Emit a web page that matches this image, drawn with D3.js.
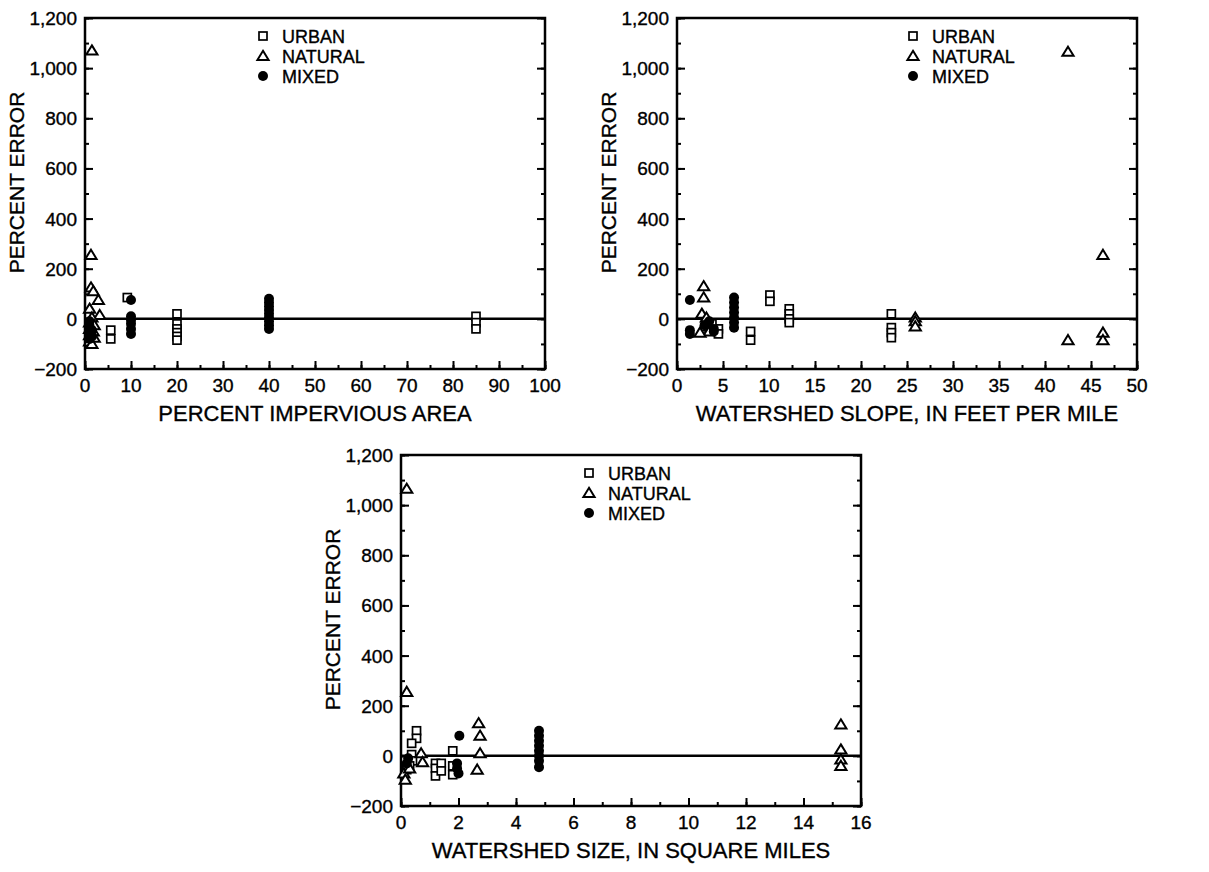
<!DOCTYPE html>
<html>
<head>
<meta charset="utf-8">
<script src="https://cdn.jsdelivr.net/npm/d3@7"></script>
<style>
  body { margin: 0; background: #fff; }
  svg { display: block; }
  text { font-family: "Liberation Sans", Arial, Helvetica, sans-serif; fill: #000; stroke: #000; stroke-width: 0.35; }
</style>
</head>
<body>
<svg id="chart" width="1209" height="872"></svg>
<script>
// ---- data: [x, percent error] ----
var yTicks = [-200, 0, 200, 400, 600, 800, 1000, 1200];
var seriesNames = ["URBAN", "NATURAL", "MIXED"];

// panel 1: percent impervious area
var impXTicks = [0, 10, 20, 30, 40, 50, 60, 70, 80, 90, 100];
var impUrban = [[5.6, -45], [5.6, -80], [9.2, 85], [20, 20], [20, -20], [20, -40], [20, -55], [20, -70], [20, -85],
  [85, 10], [85, -15], [85, -40]];
var impNatural = [[1.5, 1070], [1.3, 255], [1.3, 125], [1.8, 110], [2.9, 75], [3.2, 15], [1, 40], [1.5, 5], [1, -15],
  [2, -25], [1, -40], [1.8, -50], [1, -65], [2, -75], [1, -90], [1.5, -100]];
var impMixed = [[10, 75], [10, 10], [10, -5], [10, -20], [10, -40], [10, -60], [40, 80], [40, 65], [40, 50], [40, 35],
  [40, 20], [40, 5], [40, -10], [40, -25], [40, -40], [1, -10], [1, -30], [1.5, -45], [1, -55], [1.5, -70], [1, -80]];

// panel 2: watershed slope
var slopeXTicks = [0, 5, 10, 15, 20, 25, 30, 35, 40, 45, 50];
var slopeUrban = [[4.5, -40], [4.5, -60], [8, -50], [8, -85], [10.1, 95], [10.1, 70], [12.2, 40], [12.2, 20], [12.2, 0],
  [12.2, -15], [23.3, 20], [23.3, -35], [23.3, -55], [23.3, -75], [3.8, -20], [3.5, -45]];
var slopeNatural = [[2.9, 130], [2.9, 85], [2.7, 20], [3.2, 5], [3, -30], [3.5, -50], [2.5, -55], [25.9, 5], [25.9, -10],
  [25.9, -30], [42.5, 1065], [42.5, -85], [46.3, 255], [46.3, -55], [46.3, -85]];
var slopeMixed = [[1.4, 75], [1.4, -45], [1.4, -60], [3.5, -10], [4, -40], [6.2, 85], [6.2, 65], [6.2, 45], [6.2, 25],
  [6.2, 5], [6.2, -15], [6.2, -35], [3, -25], [4, -50]];

// panel 3: watershed size
var sizeXTicks = [0, 2, 4, 6, 8, 10, 12, 14, 16];
var sizeUrban = [[0.54, 100], [0.54, 70], [0.37, 50], [0.37, 5], [0.4, -20], [0.3, -40], [1.2, -30], [1.2, -50], [1.2, -80],
  [1.4, -30], [1.4, -60], [1.8, 20], [1.8, -40], [1.8, -75], [0.2, -55]];
var sizeNatural = [[0.2, 1065], [0.2, 255], [0.7, 10], [0.75, -25], [0.1, -70], [0.15, -95], [0.3, -50], [2.7, 130],
  [2.75, 80], [2.75, 10], [2.65, -55], [15.3, 125], [15.3, 25], [15.3, -15], [15.3, -40]];
var sizeMixed = [[2.03, 80], [1.95, -30], [1.95, -50], [2.0, -70], [4.8, 100], [4.8, 80], [4.8, 60], [4.8, 40], [4.8, 20],
  [4.8, 0], [4.8, -20], [4.8, -45], [0.2, -30], [0.25, -10]];

var svg = d3.select("#chart");
var fmt = d3.format(",");

var panels = [
  { left: 85, right: 545, top: 18, bottom: 369, xTicks: impXTicks, minor: 5, legendX: 178,
    title: "PERCENT IMPERVIOUS AREA", urban: impUrban, natural: impNatural, mixed: impMixed },
  { left: 677, right: 1137, top: 18, bottom: 369, xTicks: slopeXTicks, minor: 2.5, legendX: 236,
    title: "WATERSHED SLOPE, IN FEET PER MILE", urban: slopeUrban, natural: slopeNatural, mixed: slopeMixed },
  { left: 401, right: 861, top: 455, bottom: 806, xTicks: sizeXTicks, minor: 1, legendX: 188,
    title: "WATERSHED SIZE, IN SQUARE MILES", urban: sizeUrban, natural: sizeNatural, mixed: sizeMixed }
];

// marker drawers
function drawSquare(sel) {
  sel.append("rect").attr("x", -4).attr("y", -4).attr("width", 8).attr("height", 8)
    .attr("fill", "#fff").attr("stroke", "#000").attr("stroke-width", 1.7);
}
function drawTriangle(sel) {
  sel.append("path").attr("d", "M0,-5.2L5.6,4L-5.6,4Z")
    .attr("fill", "#fff").attr("stroke", "#000").attr("stroke-width", 2);
}
function drawCircle(sel) {
  sel.append("circle").attr("r", 5).attr("fill", "#000");
}
var drawers = [drawSquare, drawTriangle, drawCircle];

function styleTicks(a) {
  a.select(".domain").remove();
  a.selectAll("line").attr("stroke-width", 2);
}

panels.forEach(function (p) {
  var xMax = p.xTicks[p.xTicks.length - 1];
  var x = d3.scaleLinear().domain([0, xMax]).range([p.left, p.right]);
  var y = d3.scaleLinear().domain([-200, 1200]).range([p.bottom, p.top]);
  var g = svg.append("g");

  // minor / major ticks, pointing inward
  var xMinor = d3.range(0, xMax + 1e-9, p.minor);
  var yMinor = d3.range(-200, 1201, 100);

  g.append("g").attr("transform", "translate(0," + p.bottom + ")")
    .call(d3.axisTop(x).tickValues(xMinor).tickSize(4).tickFormat("")).call(styleTicks);
  g.append("g").attr("transform", "translate(0," + p.bottom + ")")
    .call(d3.axisTop(x).tickValues(p.xTicks).tickSize(8).tickFormat("")).call(styleTicks);

  [[d3.axisRight, p.left], [d3.axisLeft, p.right]].forEach(function (s) {
    g.append("g").attr("transform", "translate(" + s[1] + ",0)")
      .call(s[0](y).tickValues(yMinor).tickSize(4).tickFormat("")).call(styleTicks);
    g.append("g").attr("transform", "translate(" + s[1] + ",0)")
      .call(s[0](y).tickValues(yTicks).tickSize(8).tickFormat("")).call(styleTicks);
  });

  // tick labels
  g.selectAll(".xl").data(p.xTicks).enter().append("text")
    .attr("x", function (d) { return x(d); }).attr("y", p.bottom + 23)
    .attr("text-anchor", "middle").attr("font-size", 19).text(function (d) { return d; });
  g.selectAll(".yl").data(yTicks).enter().append("text")
    .attr("x", p.left - 8).attr("y", function (d) { return y(d) + 7; })
    .attr("text-anchor", "end").attr("font-size", 19).text(function (d) { return fmt(d); });

  // frame
  g.append("rect").attr("x", p.left).attr("y", p.top)
    .attr("width", p.right - p.left).attr("height", p.bottom - p.top)
    .attr("fill", "none").attr("stroke", "#000").attr("stroke-width", 2.5);

  // zero line
  g.append("line").attr("x1", p.left).attr("x2", p.right)
    .attr("y1", y(0)).attr("y2", y(0)).attr("stroke", "#000").attr("stroke-width", 2.5);

  // titles
  g.append("text").attr("x", (p.left + p.right) / 2).attr("y", p.bottom + 52)
    .attr("text-anchor", "middle").attr("font-size", 22).text(p.title);
  var cy = (p.top + p.bottom) / 2 - 11;
  g.append("text").attr("transform", "translate(" + (p.left - 61) + "," + cy + ") rotate(-90)")
    .attr("text-anchor", "middle").attr("font-size", 21).text("PERCENT ERROR");

  // points
  [p.urban, p.natural, p.mixed].forEach(function (data, i) {
    g.selectAll(".m" + i).data(data).enter().append("g")
      .attr("transform", function (d) { return "translate(" + x(d[0]) + "," + y(d[1]) + ")"; })
      .each(function () { drawers[i](d3.select(this)); });
  });

  // legend
  seriesNames.forEach(function (name, i) {
    var ly = p.top + 18 + i * 20;
    var lg = g.append("g").attr("transform", "translate(" + (p.left + p.legendX) + "," + ly + ")");
    drawers[i](lg);
    g.append("text").attr("x", p.left + p.legendX + 19).attr("y", ly + 7)
      .attr("font-size", 18).text(name);
  });
});
</script>
</body>
</html>
